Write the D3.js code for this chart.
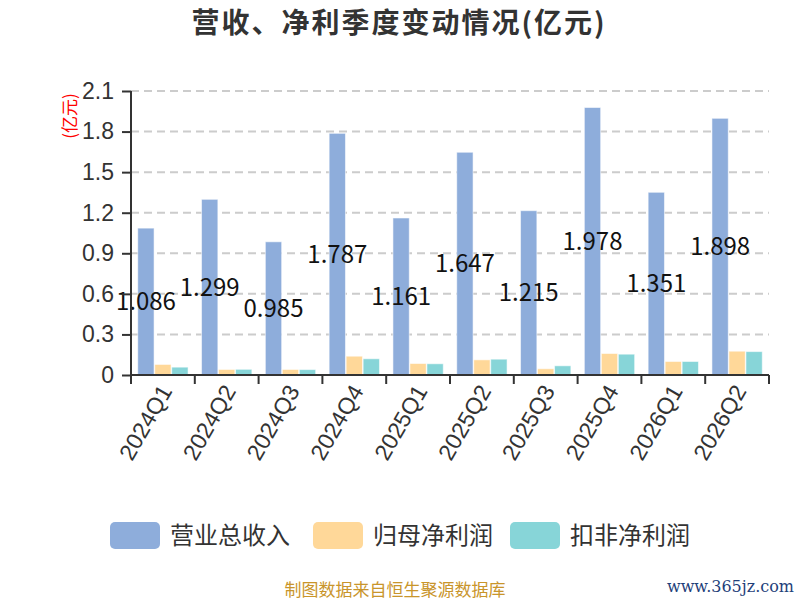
<!DOCTYPE html>
<html lang="zh">
<head>
<meta charset="UTF-8">
<title>营收、净利季度变动情况</title>
<script src="https://d3js.org/d3.v7.min.js"></script>
<style>
    body { margin: 0; padding: 0; background: #fff; }
    svg { display: block; font-family: "Noto Sans CJK SC", "Noto Sans", sans-serif; }
    .grid line { stroke: #cccccc; stroke-width: 2; stroke-dasharray: 8 5; }
    .axis path, .axis line { stroke: #333; stroke-width: 2; }
    .axis text { fill: #333; font-size: 23px; }
</style>
</head>
<body>
<div id="chart"></div>
<script>
    const quarters = ["2024Q1", "2024Q2", "2024Q3", "2024Q4", "2025Q1", "2025Q2", "2025Q3", "2025Q4", "2026Q1", "2026Q2"];
    const revenue = [1.086, 1.299, 0.985, 1.787, 1.161, 1.647, 1.215, 1.978, 1.351, 1.898];
    const netProfit = [0.078, 0.041, 0.041, 0.139, 0.085, 0.112, 0.046, 0.159, 0.100, 0.176];
    const deductedProfit = [0.058, 0.042, 0.040, 0.120, 0.083, 0.117, 0.068, 0.154, 0.100, 0.173];
    const seriesNames = ["营业总收入", "归母净利润", "扣非净利润"];
    const seriesColors = ["#8eaddb", "#ffd899", "#87d5d8"];
    const yTicks = [0, 0.3, 0.6, 0.9, 1.2, 1.5, 1.8, 2.1];

    const width = 800, height = 600;
    const margin = { top: 91, right: 31, bottom: 225, left: 131 };
    const innerW = width - margin.left - margin.right;
    const innerH = height - margin.top - margin.bottom;

    const svg = d3.select("#chart").append("svg")
        .attr("width", width)
        .attr("height", height);

    // title
    svg.append("text")
        .attr("x", 399)
        .attr("y", 33)
        .attr("text-anchor", "middle")
        .attr("font-size", 28)
        .attr("letter-spacing", 2)
        .attr("font-weight", "bold")
        .attr("fill", "#333")
        .text("营收、净利季度变动情况(亿元)");

    const g = svg.append("g")
        .attr("transform", `translate(${margin.left},${margin.top})`);

    const x0 = d3.scaleBand()
        .domain(quarters)
        .range([0, innerW])
        .paddingInner(0.19)
        .paddingOuter(0.095);

    const x1 = d3.scaleBand()
        .domain(seriesNames)
        .range([0, x0.bandwidth()])
        .padding(0.04);

    const y = d3.scaleLinear()
        .domain([0, 2.1])
        .range([innerH, 0]);

    // grid lines
    g.append("g")
        .attr("class", "grid")
        .selectAll("line")
        .data(yTicks.filter(d => d > 0))
        .join("line")
        .attr("x1", 0)
        .attr("x2", innerW)
        .attr("y1", d => y(d))
        .attr("y2", d => y(d));

    const rows = quarters.map((q, i) => ({
        quarter: q,
        values: [revenue[i], netProfit[i], deductedProfit[i]]
    }));

    const groups = g.selectAll("g.group")
        .data(rows)
        .join("g")
        .attr("class", "group")
        .attr("transform", d => `translate(${x0(d.quarter)},0)`);

    groups.selectAll("rect")
        .data(d => d.values.map((v, k) => ({ name: seriesNames[k], value: v, color: seriesColors[k] })))
        .join("rect")
        .attr("x", d => x1(d.name))
        .attr("width", x1.bandwidth())
        .attr("y", d => y(d.value))
        .attr("height", d => innerH - y(d.value))
        .attr("fill", d => d.color)
        .attr("stroke", "rgba(255,255,255,0.55)")
        .attr("stroke-width", 1);

    // value labels inside the revenue bars
    groups.append("text")
        .attr("x", x1(seriesNames[0]) + x1.bandwidth() / 2)
        .attr("y", d => (y(d.values[0]) + innerH) / 2)
        .attr("dy", "0.35em")
        .attr("text-anchor", "middle")
        .attr("font-size", 24)
        .attr("fill", "#111")
        .text(d => d.values[0].toFixed(3));

    // y axis
    g.append("g")
        .attr("class", "axis")
        .call(d3.axisLeft(y)
            .tickValues(yTicks)
            .tickSize(9)
            .tickPadding(8)
            .tickFormat(d => d === 0 ? "0" : d3.format(".1f")(d)))
        .call(a => a.select(".domain").attr("d", `M0,${innerH}V0`));

    // y axis unit
    svg.append("text")
        .attr("transform", "translate(76,116) rotate(-90)")
        .attr("text-anchor", "middle")
        .attr("font-size", 17)
        .attr("fill", "#ff0000")
        .text("(亿元)");

    // x axis
    const xAxis = g.append("g")
        .attr("class", "axis")
        .attr("transform", `translate(0,${innerH})`)
        .call(d3.axisBottom(x0).tickSize(0).tickPadding(0));
    xAxis.select(".domain").attr("d", `M0,0H${innerW}`);

    xAxis.selectAll(".tick text")
        .attr("text-anchor", "end")
        .attr("transform", "translate(3,12) rotate(-60)")
        .attr("dy", "0.35em");

    // boundary ticks between categories
    const step = x0.step();
    xAxis.selectAll("line.sep")
        .data(d3.range(quarters.length + 1))
        .join("line")
        .attr("class", "sep")
        .attr("x1", i => i * step)
        .attr("x2", i => i * step)
        .attr("y1", 0)
        .attr("y2", 9);

    // legend
    const legendX = [110, 313, 510];
    const legend = svg.append("g");
    seriesNames.forEach((name, i) => {
        legend.append("rect")
            .attr("x", legendX[i])
            .attr("y", 522)
            .attr("width", 50)
            .attr("height", 27)
            .attr("rx", 5)
            .attr("fill", seriesColors[i]);
        legend.append("text")
            .attr("x", legendX[i] + 60)
            .attr("y", 536)
            .attr("dy", "0.35em")
            .attr("font-size", 24)
            .attr("fill", "#333")
            .text(name);
    });

    // footer
    svg.append("text")
        .attr("x", 395)
        .attr("y", 590)
        .attr("dy", "0.35em")
        .attr("text-anchor", "middle")
        .attr("font-size", 17)
        .attr("fill", "#c9952b")
        .text("制图数据来自恒生聚源数据库");

    svg.append("text")
        .attr("x", 794)
        .attr("y", 586)
        .attr("dy", "0.35em")
        .attr("text-anchor", "end")
        .attr("font-family", "DejaVu Serif, serif")
        .attr("font-size", 16)
        .attr("fill", "#1f3f7a")
        .text("www.365jz.com");
</script>
</body>
</html>
